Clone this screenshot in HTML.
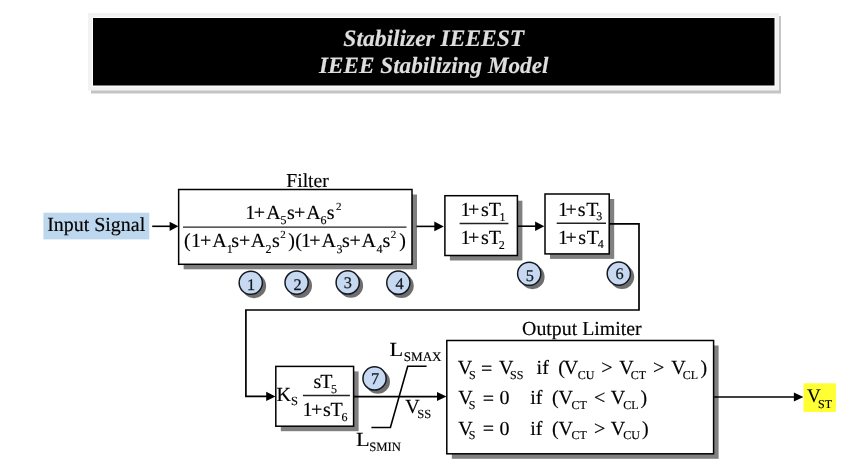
<!DOCTYPE html>
<html><head><meta charset="utf-8"><style>
html,body{margin:0;padding:0;background:#fff;}
body{width:858px;height:473px;overflow:hidden;}
svg{display:block;font-family:"Liberation Serif",serif;will-change:transform;}
text{stroke:currentColor;stroke-width:0.15px;text-rendering:geometricPrecision;}
</style></head><body>
<svg width="858" height="473" viewBox="0 0 858 473">
<defs><filter id="bl" x="-30%" y="-30%" width="160%" height="160%"><feGaussianBlur stdDeviation="0.6"/></filter></defs>
<rect x="91" y="16" width="690" height="77.5" fill="#c4c4c4"/>
<rect x="88" y="13" width="691" height="77.5" fill="#f2f2f2"/>
<rect x="92" y="17" width="683.5" height="69.5" fill="#fff"/>
<rect x="93" y="18" width="681.5" height="67.5" fill="#000"/>
<text x="433.75" y="45.6" font-size="23.5" font-weight="bold" font-style="italic" fill="#dedede" color="#dedede" text-anchor="middle">Stabilizer IEEEST</text>
<text x="433.75" y="72.7" font-size="23.2" font-weight="bold" font-style="italic" fill="#dedede" color="#dedede" text-anchor="middle">IEEE Stabilizing Model</text>
<rect x="43.4" y="212.7" width="105.9" height="26.7" fill="#bdd7ee"/>
<text x="47.18" y="230.90" font-size="19.95" fill="#000" color="#000">Input Signal</text>
<line x1="152.2" y1="226.3" x2="171" y2="226.3" stroke="#000" stroke-width="1.6"/>
<polygon points="178.4,226.3 169.6,221.70000000000002 169.6,230.9" fill="#000"/>
<rect x="183.65" y="194.5" width="233.35" height="74.80000000000001" fill="#808080"/>
<rect x="178.65" y="189.5" width="233.35" height="74.80000000000001" fill="#fff" stroke="#000" stroke-width="1.5"/>
<text x="286.23" y="187.40" font-size="19.7" fill="#000" color="#000">Filter</text>
<line x1="183" y1="227.1" x2="406.5" y2="227.1" stroke="#222" stroke-width="1.4"/>
<text x="245.14" y="219.30" font-size="20" fill="#000" color="#000">1</text>
<text x="253.70" y="219.30" font-size="20" fill="#000" color="#000">+</text>
<text x="266.30" y="219.30" font-size="20" fill="#000" color="#000">A</text>
<text x="280.50" y="224.20" font-size="12" fill="#000" color="#000">5</text>
<text x="286.88" y="219.30" font-size="20" fill="#000" color="#000">s</text>
<text x="293.90" y="219.30" font-size="20" fill="#000" color="#000">+</text>
<text x="306.20" y="219.30" font-size="20" fill="#000" color="#000">A</text>
<text x="320.48" y="224.20" font-size="12" fill="#000" color="#000">6</text>
<text x="326.78" y="219.30" font-size="20" fill="#000" color="#000">s</text>
<text x="335.92" y="210.30" font-size="11" fill="#000" color="#000">2</text>
<text x="184.02" y="247.40" font-size="20" fill="#000" color="#000">(</text>
<text x="191.04" y="247.40" font-size="20" fill="#000" color="#000">1</text>
<text x="199.90" y="247.40" font-size="20" fill="#000" color="#000">+</text>
<text x="212.20" y="247.40" font-size="20" fill="#000" color="#000">A</text>
<text x="226.65" y="252.50" font-size="12" fill="#000" color="#000">1</text>
<text x="231.18" y="247.40" font-size="20" fill="#000" color="#000">s</text>
<text x="238.90" y="247.40" font-size="20" fill="#000" color="#000">+</text>
<text x="250.80" y="247.40" font-size="20" fill="#000" color="#000">A</text>
<text x="265.47" y="252.50" font-size="12" fill="#000" color="#000">2</text>
<text x="272.08" y="247.40" font-size="20" fill="#000" color="#000">s</text>
<text x="280.22" y="238.30" font-size="11" fill="#000" color="#000">2</text>
<text x="288.26" y="247.40" font-size="20" fill="#000" color="#000">)</text>
<text x="295.32" y="247.40" font-size="20" fill="#000" color="#000">(</text>
<text x="300.94" y="247.40" font-size="20" fill="#000" color="#000">1</text>
<text x="309.20" y="247.40" font-size="20" fill="#000" color="#000">+</text>
<text x="321.50" y="247.40" font-size="20" fill="#000" color="#000">A</text>
<text x="336.43" y="252.50" font-size="12" fill="#000" color="#000">3</text>
<text x="342.08" y="247.40" font-size="20" fill="#000" color="#000">s</text>
<text x="349.50" y="247.40" font-size="20" fill="#000" color="#000">+</text>
<text x="361.50" y="247.40" font-size="20" fill="#000" color="#000">A</text>
<text x="376.47" y="252.50" font-size="12" fill="#000" color="#000">4</text>
<text x="382.38" y="247.40" font-size="20" fill="#000" color="#000">s</text>
<text x="390.82" y="238.30" font-size="11" fill="#000" color="#000">2</text>
<text x="399.16" y="247.40" font-size="20" fill="#000" color="#000">)</text>
<circle cx="253.95" cy="285.95" r="12.2" fill="#6e6e6e" filter="url(#bl)"/>
<circle cx="250.75" cy="282.75" r="11.6" fill="#c6d9f0" stroke="#141820" stroke-width="1.5"/>
<text style="stroke-width:0.25px" x="247.00" y="289.68" font-size="16.3" fill="#141820" color="#141820">1</text>
<circle cx="299.8" cy="285.75" r="12.2" fill="#6e6e6e" filter="url(#bl)"/>
<circle cx="296.6" cy="282.55" r="11.6" fill="#c6d9f0" stroke="#141820" stroke-width="1.5"/>
<text style="stroke-width:0.25px" x="293.62" y="289.55" font-size="16.3" fill="#141820" color="#141820">2</text>
<circle cx="350.9" cy="285.65" r="12.2" fill="#6e6e6e" filter="url(#bl)"/>
<circle cx="347.7" cy="282.45" r="11.6" fill="#c6d9f0" stroke="#141820" stroke-width="1.5"/>
<text style="stroke-width:0.25px" x="343.85" y="287.83" font-size="16.3" fill="#141820" color="#141820">3</text>
<circle cx="401.55" cy="285.84999999999997" r="12.2" fill="#6e6e6e" filter="url(#bl)"/>
<circle cx="398.35" cy="282.65" r="11.6" fill="#c6d9f0" stroke="#141820" stroke-width="1.5"/>
<text style="stroke-width:0.25px" x="395.49" y="289.36" font-size="16.3" fill="#141820" color="#141820">4</text>
<line x1="416.5" y1="226.4" x2="436" y2="226.4" stroke="#000" stroke-width="1.6"/>
<polygon points="443.8,226.4 434.3,221.55 434.3,231.25" fill="#000"/>
<rect x="449.9" y="200.7" width="72.5" height="59.80000000000001" fill="#808080"/>
<rect x="444.9" y="195.7" width="72.5" height="59.80000000000001" fill="#fff" stroke="#000" stroke-width="1.5"/>
<line x1="459.6" y1="223.5" x2="508.4" y2="223.5" stroke="#222" stroke-width="1.4"/>
<text x="460.54" y="215.90" font-size="20" fill="#000" color="#000">1</text>
<text x="468.10" y="215.90" font-size="20" fill="#000" color="#000">+</text>
<text x="480.88" y="215.90" font-size="20" fill="#000" color="#000">s</text>
<text x="488.74" y="215.90" font-size="20" fill="#000" color="#000">T</text>
<text x="499.45" y="220.50" font-size="12" fill="#000" color="#000">1</text>
<text x="460.54" y="244.00" font-size="20" fill="#000" color="#000">1</text>
<text x="468.10" y="244.00" font-size="20" fill="#000" color="#000">+</text>
<text x="480.88" y="244.00" font-size="20" fill="#000" color="#000">s</text>
<text x="488.74" y="244.00" font-size="20" fill="#000" color="#000">T</text>
<text x="498.77" y="248.60" font-size="12" fill="#000" color="#000">2</text>
<line x1="518" y1="226.2" x2="536" y2="226.2" stroke="#000" stroke-width="1.6"/>
<polygon points="544.3,226.2 535.0999999999999,221.45 535.0999999999999,230.95" fill="#000"/>
<rect x="550" y="199" width="64.20000000000005" height="59.900000000000006" fill="#808080"/>
<rect x="545" y="194" width="64.20000000000005" height="59.900000000000006" fill="#fff" stroke="#000" stroke-width="1.5"/>
<line x1="556.7" y1="223.2" x2="606" y2="223.2" stroke="#222" stroke-width="1.4"/>
<text x="557.94" y="216.00" font-size="20" fill="#000" color="#000">1</text>
<text x="565.50" y="216.00" font-size="20" fill="#000" color="#000">+</text>
<text x="577.68" y="216.00" font-size="20" fill="#000" color="#000">s</text>
<text x="586.14" y="216.00" font-size="20" fill="#000" color="#000">T</text>
<text x="596.23" y="220.30" font-size="12" fill="#000" color="#000">3</text>
<text x="557.94" y="243.70" font-size="20" fill="#000" color="#000">1</text>
<text x="565.50" y="243.70" font-size="20" fill="#000" color="#000">+</text>
<text x="578.28" y="243.70" font-size="20" fill="#000" color="#000">s</text>
<text x="586.74" y="243.70" font-size="20" fill="#000" color="#000">T</text>
<text x="597.67" y="247.70" font-size="12" fill="#000" color="#000">4</text>
<circle cx="532.4000000000001" cy="276.95" r="12.2" fill="#6e6e6e" filter="url(#bl)"/>
<circle cx="529.2" cy="273.75" r="11.6" fill="#c6d9f0" stroke="#141820" stroke-width="1.5"/>
<text style="stroke-width:0.25px" x="525.72" y="280.67" font-size="16.3" fill="#141820" color="#141820">5</text>
<circle cx="622.0" cy="276.8" r="12.2" fill="#6e6e6e" filter="url(#bl)"/>
<circle cx="618.8" cy="273.6" r="11.6" fill="#c6d9f0" stroke="#141820" stroke-width="1.5"/>
<text style="stroke-width:0.25px" x="615.42" y="279.33" font-size="16.3" fill="#141820" color="#141820">6</text>
<polyline points="609.5,223.8 639,223.8 639,310 245.9,310 245.9,396.4 267,396.4" fill="none" stroke="#000" stroke-width="1.7" stroke-linejoin="miter"/>
<polygon points="275.5,396.4 266.2,391.79999999999995 266.2,401.0" fill="#000"/>
<rect x="280.8" y="371.4" width="77.80000000000001" height="59.80000000000001" fill="#808080"/>
<rect x="275.8" y="366.4" width="77.80000000000001" height="59.80000000000001" fill="#fff" stroke="#000" stroke-width="1.5"/>
<text x="276.42" y="400.80" font-size="20" fill="#000" color="#000">K</text>
<text x="290.96" y="405.30" font-size="12.5" fill="#000" color="#000">S</text>
<line x1="302.9" y1="395.5" x2="349.9" y2="395.5" stroke="#222" stroke-width="1.4"/>
<text x="313.38" y="387.70" font-size="20" fill="#000" color="#000">s</text>
<text x="320.34" y="387.70" font-size="20" fill="#000" color="#000">T</text>
<text x="331.10" y="392.90" font-size="12" fill="#000" color="#000">5</text>
<text x="302.44" y="415.70" font-size="20" fill="#000" color="#000">1</text>
<text x="310.90" y="415.70" font-size="20" fill="#000" color="#000">+</text>
<text x="322.88" y="415.70" font-size="20" fill="#000" color="#000">s</text>
<text x="330.44" y="415.70" font-size="20" fill="#000" color="#000">T</text>
<text x="341.48" y="421.00" font-size="12" fill="#000" color="#000">6</text>
<circle cx="377.75" cy="381.65" r="12.2" fill="#6e6e6e" filter="url(#bl)"/>
<circle cx="374.55" cy="378.45" r="11.6" fill="#c6d9f0" stroke="#141820" stroke-width="1.5"/>
<text style="stroke-width:0.25px" x="371.02" y="383.69" font-size="16.3" fill="#141820" color="#141820">7</text>
<line x1="353.6" y1="396.6" x2="437" y2="396.6" stroke="#000" stroke-width="1.7"/>
<polygon points="446.5,396.6 437.0,392.1 437.0,401.1" fill="#000"/>
<polyline points="371.4,427.5 390.4,427.5 407.7,366.3 426.6,366.3" fill="none" stroke="#000" stroke-width="1.6" stroke-linejoin="miter"/>
<text transform="translate(389.55,356.30) scale(1.12,1)" font-size="20" fill="#000" color="#000">L</text>
<text x="403.72" y="361.20" font-size="13.1" fill="#000" color="#000">SMAX</text>
<text x="405.28" y="412.70" font-size="20" fill="#000" color="#000">V</text>
<text x="417.36" y="417.70" font-size="12.5" fill="#000" color="#000">SS</text>
<text transform="translate(355.95,446.00) scale(1.12,1)" font-size="20" fill="#000" color="#000">L</text>
<text x="369.15" y="451.20" font-size="12.7" fill="#000" color="#000">SMIN</text>
<rect x="451.8" y="345.5" width="266.8" height="113.30000000000001" fill="#808080"/>
<rect x="446.8" y="340.5" width="266.8" height="113.30000000000001" fill="#fff" stroke="#000" stroke-width="1.5"/>
<text x="522.09" y="335.40" font-size="19.85" fill="#000" color="#000">Output Limiter</text>
<text x="457.68" y="373.90" font-size="20" fill="#000" color="#000">V</text>
<text x="469.10" y="378.50" font-size="12" fill="#000" color="#000">S</text>
<text x="481.10" y="374.50" font-size="20" fill="#000" color="#000">=</text>
<text x="498.88" y="373.90" font-size="20" fill="#000" color="#000">V</text>
<text x="510.10" y="378.50" font-size="12" fill="#000" color="#000">SS</text>
<text x="536.58" y="373.90" font-size="20" fill="#000" color="#000">if</text>
<text x="558.22" y="373.90" font-size="20" fill="#000" color="#000">(</text>
<text x="563.78" y="373.90" font-size="20" fill="#000" color="#000">V</text>
<text x="577.81" y="378.50" font-size="12" fill="#000" color="#000">CU</text>
<text x="601.28" y="373.90" font-size="20" fill="#000" color="#000">&gt;</text>
<text x="619.18" y="373.90" font-size="20" fill="#000" color="#000">V</text>
<text x="630.81" y="378.50" font-size="12" fill="#000" color="#000">CT</text>
<text x="652.98" y="373.90" font-size="20" fill="#000" color="#000">&gt;</text>
<text x="671.28" y="373.90" font-size="20" fill="#000" color="#000">V</text>
<text x="682.71" y="378.50" font-size="12" fill="#000" color="#000">CL</text>
<text x="700.56" y="373.90" font-size="20" fill="#000" color="#000">)</text>
<text x="458.28" y="404.40" font-size="20" fill="#000" color="#000">V</text>
<text x="468.70" y="409.00" font-size="12" fill="#000" color="#000">S</text>
<text x="482.80" y="405.00" font-size="20" fill="#000" color="#000">=</text>
<text x="499.54" y="404.40" font-size="20" fill="#000" color="#000">0</text>
<text x="530.18" y="404.40" font-size="20" fill="#000" color="#000">if</text>
<text x="552.02" y="404.40" font-size="20" fill="#000" color="#000">(</text>
<text x="558.38" y="404.40" font-size="20" fill="#000" color="#000">V</text>
<text x="571.51" y="409.00" font-size="12" fill="#000" color="#000">CT</text>
<text x="594.00" y="404.40" font-size="20" fill="#000" color="#000">&lt;</text>
<text x="610.68" y="404.40" font-size="20" fill="#000" color="#000">V</text>
<text x="623.31" y="409.00" font-size="12" fill="#000" color="#000">CL</text>
<text x="640.56" y="404.40" font-size="20" fill="#000" color="#000">)</text>
<text x="458.28" y="434.70" font-size="20" fill="#000" color="#000">V</text>
<text x="468.70" y="439.30" font-size="12" fill="#000" color="#000">S</text>
<text x="482.80" y="435.30" font-size="20" fill="#000" color="#000">=</text>
<text x="499.54" y="434.70" font-size="20" fill="#000" color="#000">0</text>
<text x="530.18" y="434.70" font-size="20" fill="#000" color="#000">if</text>
<text x="552.02" y="434.70" font-size="20" fill="#000" color="#000">(</text>
<text x="558.38" y="434.70" font-size="20" fill="#000" color="#000">V</text>
<text x="571.51" y="439.30" font-size="12" fill="#000" color="#000">CT</text>
<text x="593.98" y="434.70" font-size="20" fill="#000" color="#000">&gt;</text>
<text x="610.68" y="434.70" font-size="20" fill="#000" color="#000">V</text>
<text x="623.31" y="439.30" font-size="12" fill="#000" color="#000">CU</text>
<text x="642.06" y="434.70" font-size="20" fill="#000" color="#000">)</text>
<line x1="713.6" y1="397" x2="795" y2="397" stroke="#000" stroke-width="1.7"/>
<polygon points="803.4,397 793.9,392.5 793.9,401.5" fill="#000"/>
<rect x="803.5" y="383.3" width="32.4" height="28.7" fill="#ffff33"/>
<text x="807.09" y="402.20" font-size="19" fill="#000" color="#000">V</text>
<text x="818.10" y="407.50" font-size="12" fill="#000" color="#000">ST</text>
</svg>
</body></html>
